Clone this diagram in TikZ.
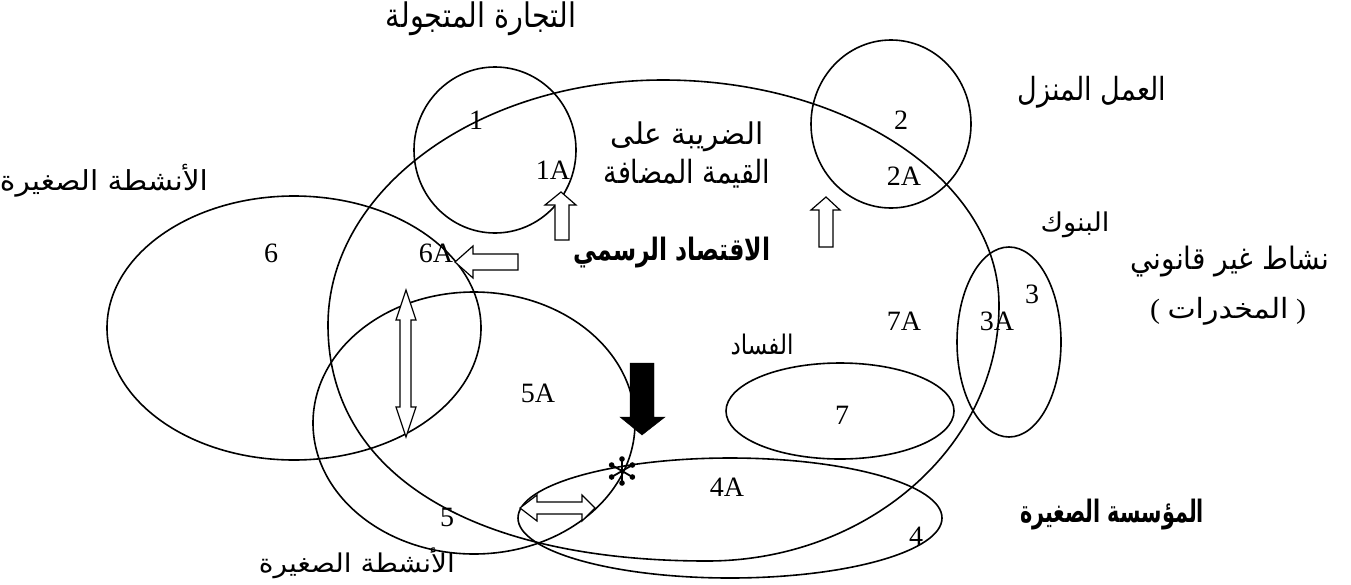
\documentclass[tikz,border=0pt]{standalone}
\usepackage{graphicx}
\usepackage{fontspec}
\setmainfont{Liberation Serif}
\newfontfamily\arabicfont[Script=Arabic]{DejaVu Sans}
\TeXXeTstate=1
\begin{document}
\begin{tikzpicture}[x=1pt,y=-1pt,
  venn/.style={draw=black,line width=1.6pt},
  num/.style={font=\fontsize{28}{30}\selectfont, inner sep=0pt},
  lab/.style={inner sep=0pt},
  blockarrow/.style={draw=black,line width=1.2pt,fill=white,line join=miter},
  blackarrow/.style={draw=black,fill=black,line join=miter}]
\useasboundingbox (0,0) rectangle (1351,584);

% formal economy (large ellipse)
\coordinate (fT) at (663,80);
\coordinate (fR) at (999,305);
\coordinate (fB) at (707,561);
\coordinate (fL) at (328,325);
\draw[venn] (fT) .. controls (848,80) and (999,181) .. (fR)
                 .. controls (999,446) and (868,561) .. (fB)
                 .. controls (472,561) and (328,474) .. (fL)
                 .. controls (328,190) and (478,80) .. (fT) -- cycle;

% satellite sets
\draw[venn] (495,150) ellipse [x radius=81pt, y radius=83pt];
\draw[venn] (891,124) ellipse [x radius=80pt, y radius=84pt];
\draw[venn] (1009,342) ellipse [x radius=52pt, y radius=95pt];
\draw[venn] (840,411) ellipse [x radius=114pt, y radius=48pt];
\draw[venn] (294,328) ellipse [x radius=187pt, y radius=132pt];
\draw[venn] (474,423) ellipse [x radius=161pt, y radius=131pt];
\draw[venn] (730,518) ellipse [x radius=212pt, y radius=60pt];

% block arrows
\draw[blockarrow] (561,192) -- (576,205) -- (569,205) -- (569,240) -- (555,240) -- (555,205) -- (545,205) -- cycle;
\draw[blockarrow] (826,197) -- (840,210) -- (833,210) -- (833,247) -- (819,247) -- (819,210) -- (811,210) -- cycle;
\draw[blockarrow] (455,262) -- (473,246) -- (473,254) -- (518,254) -- (518,270) -- (473,270) -- (473,278) -- cycle;
\draw[blockarrow] (406,290) -- (416,320) -- (411,320) -- (411,407) -- (416,407) -- (406,437) -- (396,407) -- (400,407) -- (400,320) -- (396,320) -- cycle;
\draw[blockarrow] (520,508) -- (537,495) -- (537,502) -- (582,502) -- (582,495) -- (595,508) -- (582,521) -- (582,514) -- (537,514) -- (537,521) -- cycle;
\draw[blackarrow] (630,363) -- (654,363) -- (654,417) -- (665,417) -- (642,435) -- (620,417) -- (630,417) -- cycle;

% asterisk
\coordinate (star) at (622,471);
\foreach \a in {30,90,150,210,270,330}{
  \draw[line width=1.8pt] (star) -- ++(\a:12);
  \fill (star) ++(\a:12) circle[radius=2.8pt];
}

% numeric labels
\node[num] (n1)  at (476,120) {1};
\node[num] (n1a) at (553,170) {1A};
\node[num] (n2)  at (901,120) {2};
\node[num] (n2a) at (904,176) {2A};
\node[num] (n3)  at (1032,294) {3};
\node[num] (n3a) at (997,321) {3A};
\node[num] (n7a) at (904,321) {7A};
\node[num] (n7)  at (842,415) {7};
\node[num] (n4a) at (727,487) {4A};
\node[num] (n4)  at (916,536) {4};
\node[num] (n6)  at (271,253) {6};
\node[num] (n6a) at (436,253) {6A};
\node[num] (n5a) at (538,393) {5A};
\node[num] (n5)  at (447,517) {5};

% Arabic labels
\node[lab] (t1) at (481,19) {\resizebox*{190pt}{34pt}{\arabicfont\beginR التجارة المتجولة\endR}};
\node[lab] (t2) at (1092,92) {\resizebox*{148pt}{32pt}{\arabicfont\beginR العمل المنزل\endR}};
\node[lab] (t6) at (104,181) {\resizebox*{208pt}{33pt}{\arabicfont\beginR الأنشطة الصغيرة\endR}};
\node[lab] (tv1) at (687,137) {\resizebox*{153pt}{30pt}{\arabicfont\beginR الضريبة على\endR}};
\node[lab] (tv2) at (687,174) {\resizebox*{167pt}{29pt}{\arabicfont\beginR القيمة المضافة\endR}};
\node[lab] (tf) at (672,253) {\resizebox*{197pt}{31pt}{\arabicfont\bfseries\beginR الاقتصاد الرسمي\endR}};
\node[lab] (tb) at (1075,225) {\resizebox*{69pt}{26pt}{\arabicfont\beginR البنوك\endR}};
\node[lab] (ti1) at (1230,262) {\resizebox*{199pt}{31pt}{\arabicfont\beginR نشاط غير قانوني\endR}};
\node[lab] (ti2) at (1228,311) {\resizebox*{156pt}{28pt}{( {\arabicfont\beginR المخدرات\endR} )}};
\node[lab] (tc) at (762,344) {\resizebox*{63pt}{21pt}{\arabicfont\beginR الفساد\endR}};
\node[lab] (tm) at (1112,515) {\resizebox*{184pt}{31pt}{\arabicfont\bfseries\beginR المؤسسة الصغيرة\endR}};
\node[lab] (t5) at (357,563) {\resizebox*{196pt}{31pt}{\arabicfont\beginR الأنشطة الصغيرة\endR}};
\end{tikzpicture}
\end{document}
